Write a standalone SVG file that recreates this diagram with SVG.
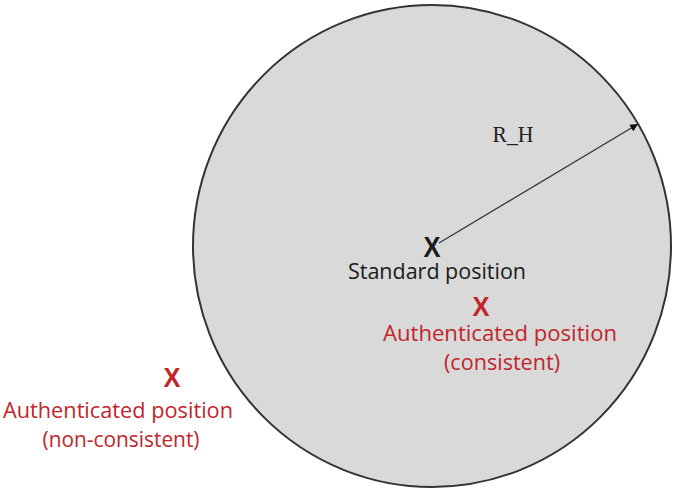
<svg xmlns="http://www.w3.org/2000/svg" width="675" height="497" viewBox="0 0 675 497">
<style>
.lbl{font-family:"Open Sans","Liberation Sans",sans-serif;font-size:22px;text-anchor:middle}
.red{fill:#c0252c}
.blk{fill:#1a1a1a}
.x{font-family:"Liberation Sans",sans-serif;font-weight:bold;text-anchor:middle}
</style>
<defs>
<marker id="ah" viewBox="0 0 10 10" refX="10" refY="5" markerWidth="8" markerHeight="8" orient="auto" markerUnits="userSpaceOnUse">
<path d="M0,0 L10,5 L0,10 z" fill="#111"/>
</marker>
</defs>
<rect width="675" height="497" fill="#fff"/>
<g id="circle">
<ellipse cx="432" cy="246" rx="239" ry="241" fill="#d9d9d9" stroke="#333" stroke-width="2"/>
</g>
<g id="connectors">
<line x1="439" y1="243" x2="638" y2="124" stroke="#333" stroke-width="1.3" marker-end="url(#ah)"/>
<text x="513" y="142" font-family="Liberation Serif,serif" font-size="23" text-anchor="middle" fill="#222" textLength="41" lengthAdjust="spacingAndGlyphs">R_H</text>
</g>
<g id="standard">
<text class="x blk" x="432" y="257" font-size="30" textLength="17" lengthAdjust="spacingAndGlyphs">X</text>
<text class="lbl blk" x="437" y="279" textLength="178" lengthAdjust="spacingAndGlyphs">Standard position</text>
</g>
<g id="consistent">
<text class="x red" x="481" y="316" font-size="27" textLength="17" lengthAdjust="spacingAndGlyphs">X</text>
<text class="lbl red" x="500" y="341" textLength="234" lengthAdjust="spacingAndGlyphs">Authenticated position</text>
<text class="lbl red" x="502" y="370" textLength="116" lengthAdjust="spacingAndGlyphs">(consistent)</text>
</g>
<g id="nonconsistent">
<text class="x red" x="172" y="387" font-size="27" textLength="17" lengthAdjust="spacingAndGlyphs">X</text>
<text class="lbl red" x="118" y="418" textLength="230" lengthAdjust="spacingAndGlyphs">Authenticated position</text>
<text class="lbl red" x="121" y="447" textLength="157" lengthAdjust="spacingAndGlyphs">(non-consistent)</text>
</g>
</svg>
